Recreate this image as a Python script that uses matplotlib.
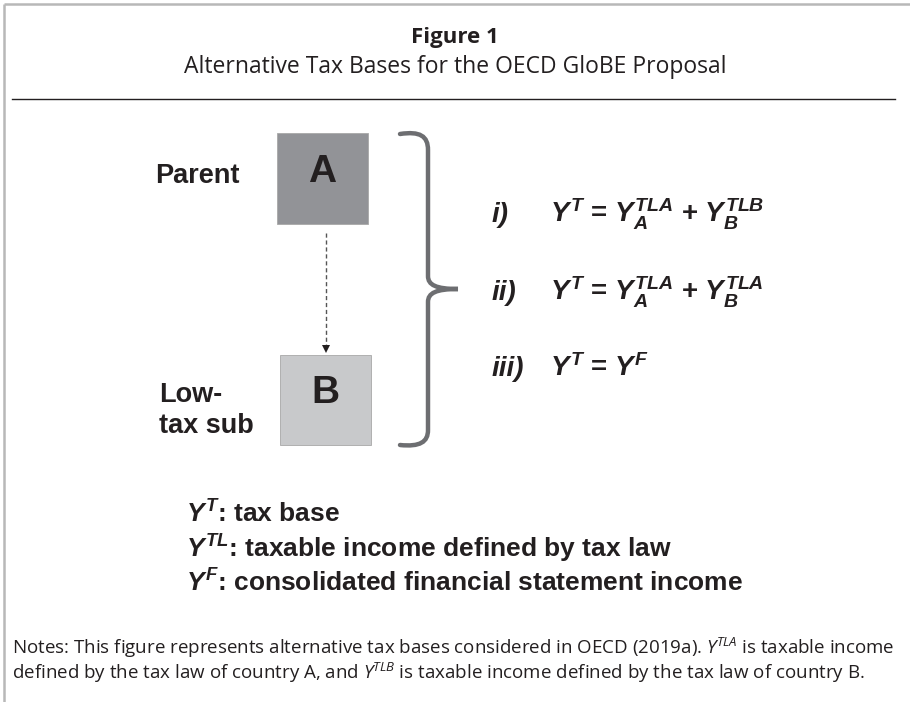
import matplotlib
matplotlib.use("Agg")
import matplotlib.pyplot as plt
from matplotlib.path import Path
from matplotlib.patches import PathPatch, Rectangle

plt.rcParams['mathtext.fontset'] = 'custom'
plt.rcParams['mathtext.rm'] = 'Liberation Sans:bold'
plt.rcParams['mathtext.it'] = 'Liberation Sans:bold:italic'
plt.rcParams['mathtext.bf'] = 'Liberation Sans:bold'
plt.rcParams['mathtext.sf'] = 'Open Sans:italic'

# ---- content ----
title = "Figure 1"
subtitle = "Alternative Tax Bases for the OECD GloBE Proposal"
entity_letters = ["A", "B"]
entity_labels = ["Parent", "Low-\ntax sub"]
entity_colors = ["#929397", "#c8c9cb"]
eq_labels = ["i)", "ii)", "iii)"]
equations = [r"$Y^{T}$ = $Y_{A}^{TLA}$ + $Y_{B}^{TLB}$",
             r"$Y^{T}$ = $Y_{A}^{TLA}$ + $Y_{B}^{TLA}$",
             r"$Y^{T}$ = $Y^{F}$"]
legend_syms = [r"$Y^{T}$", r"$Y^{TL}$", r"$Y^{F}$"]
legend_desc = [": tax base",
               ": taxable income defined by tax law",
               ": consolidated financial statement income"]
notes = [r"Notes: This figure represents alternative tax bases considered in OECD (2019a). $\mathsf{Y^{TLA}}$ is taxable income",
         r"defined by the tax law of country A, and $\mathsf{Y^{TLB}}$ is taxable income defined by the tax law of country B."]

INK = "#231f20"
fig = plt.figure(figsize=(9.1, 7.02), dpi=100)
ax = fig.add_axes([0, 0, 1, 1])
ax.set_xlim(0, 910)
ax.set_ylim(702, 0)
ax.axis('off')

# frame
ax.plot([4, 910], [4, 4], color="#b8b8b8", lw=1.8, solid_capstyle='butt')
ax.plot([4, 4], [4, 702], color="#b8b8b8", lw=1.8, solid_capstyle='butt')

# header
hfont = "Open Sans"
ax.text(455, 43, title, ha='center', va='baseline', fontsize=16, fontweight='bold', family=hfont, color=INK)
ax.text(455, 73, subtitle, ha='center', va='baseline', fontsize=16.5, family=hfont, color=INK)
ax.plot([12, 895], [99, 99], color=INK, lw=1)

# boxes
boxes = [(277, 133, 91, 91), (280, 355, 91, 90)]
letter_base = [182, 403]
for (x, y, w, h), c, letter, yb in zip(boxes, entity_colors, entity_letters, letter_base):
    ax.add_patch(Rectangle((x, y), w, h, facecolor=c, edgecolor="#a8a8a8", lw=0.6))
    ax.text(x + w / 2, yb, letter, ha='center', va='baseline', fontsize=28,
            fontweight='bold', family="Liberation Sans", color=INK)

ax.text(155, 183, entity_labels[0], ha='left', va='baseline', fontsize=19.5,
        fontweight='bold', family="Liberation Sans", color=INK)
lab2 = entity_labels[1].split("\n")
ax.text(159, 402, lab2[0], ha='left', va='baseline', fontsize=19.5,
        fontweight='bold', family="Liberation Sans", color=INK)
ax.text(159, 433, lab2[1], ha='left', va='baseline', fontsize=19.5,
        fontweight='bold', family="Liberation Sans", color=INK)

# dashed arrow
ax.plot([326, 326], [233, 347], ls=(0, (3, 2)), color="#555555", lw=1)
ax.plot(326, 349, marker='v', ms=6, color=INK, mew=0)

# brace
verts = [(400, 134), (420, 131), (428, 136), (428, 150),
         (428, 276),
         (428, 285), (436, 289), (458, 289),
         (436, 289), (428, 293), (428, 302),
         (428, 430),
         (428, 442), (420, 447), (400, 445)]
codes = [Path.MOVETO, Path.CURVE4, Path.CURVE4, Path.CURVE4,
         Path.LINETO,
         Path.CURVE4, Path.CURVE4, Path.CURVE4,
         Path.CURVE4, Path.CURVE4, Path.CURVE4,
         Path.LINETO,
         Path.CURVE4, Path.CURVE4, Path.CURVE4]
ax.add_patch(PathPatch(Path(verts, codes), fill=False, edgecolor="#6d6e71", lw=3.2, capstyle='round'))

# equations
eq_y = [222, 300, 376]
for lab, eq, y in zip(eq_labels, equations, eq_y):
    ax.text(492, y, lab, ha='left', va='baseline', fontsize=20, fontweight='bold',
            style='italic', family="Liberation Sans", color=INK)
    ax.text(550, y, eq, ha='left', va='baseline', fontsize=20, fontweight='bold',
            family="Liberation Sans", color=INK)

# legend
leg_y = [523, 558, 592]
for sym, desc, y in zip(legend_syms, legend_desc, leg_y):
    ax.text(186, y, sym + desc, ha='left', va='baseline', fontsize=19,
            fontweight='bold', family="Liberation Sans", color=INK)

# notes
for line, y in zip(notes, [654, 679]):
    ax.text(12, y, line, ha='left', va='baseline', fontsize=13.5, family="Open Sans", color=INK)

fig.savefig("out.png", dpi=100)
